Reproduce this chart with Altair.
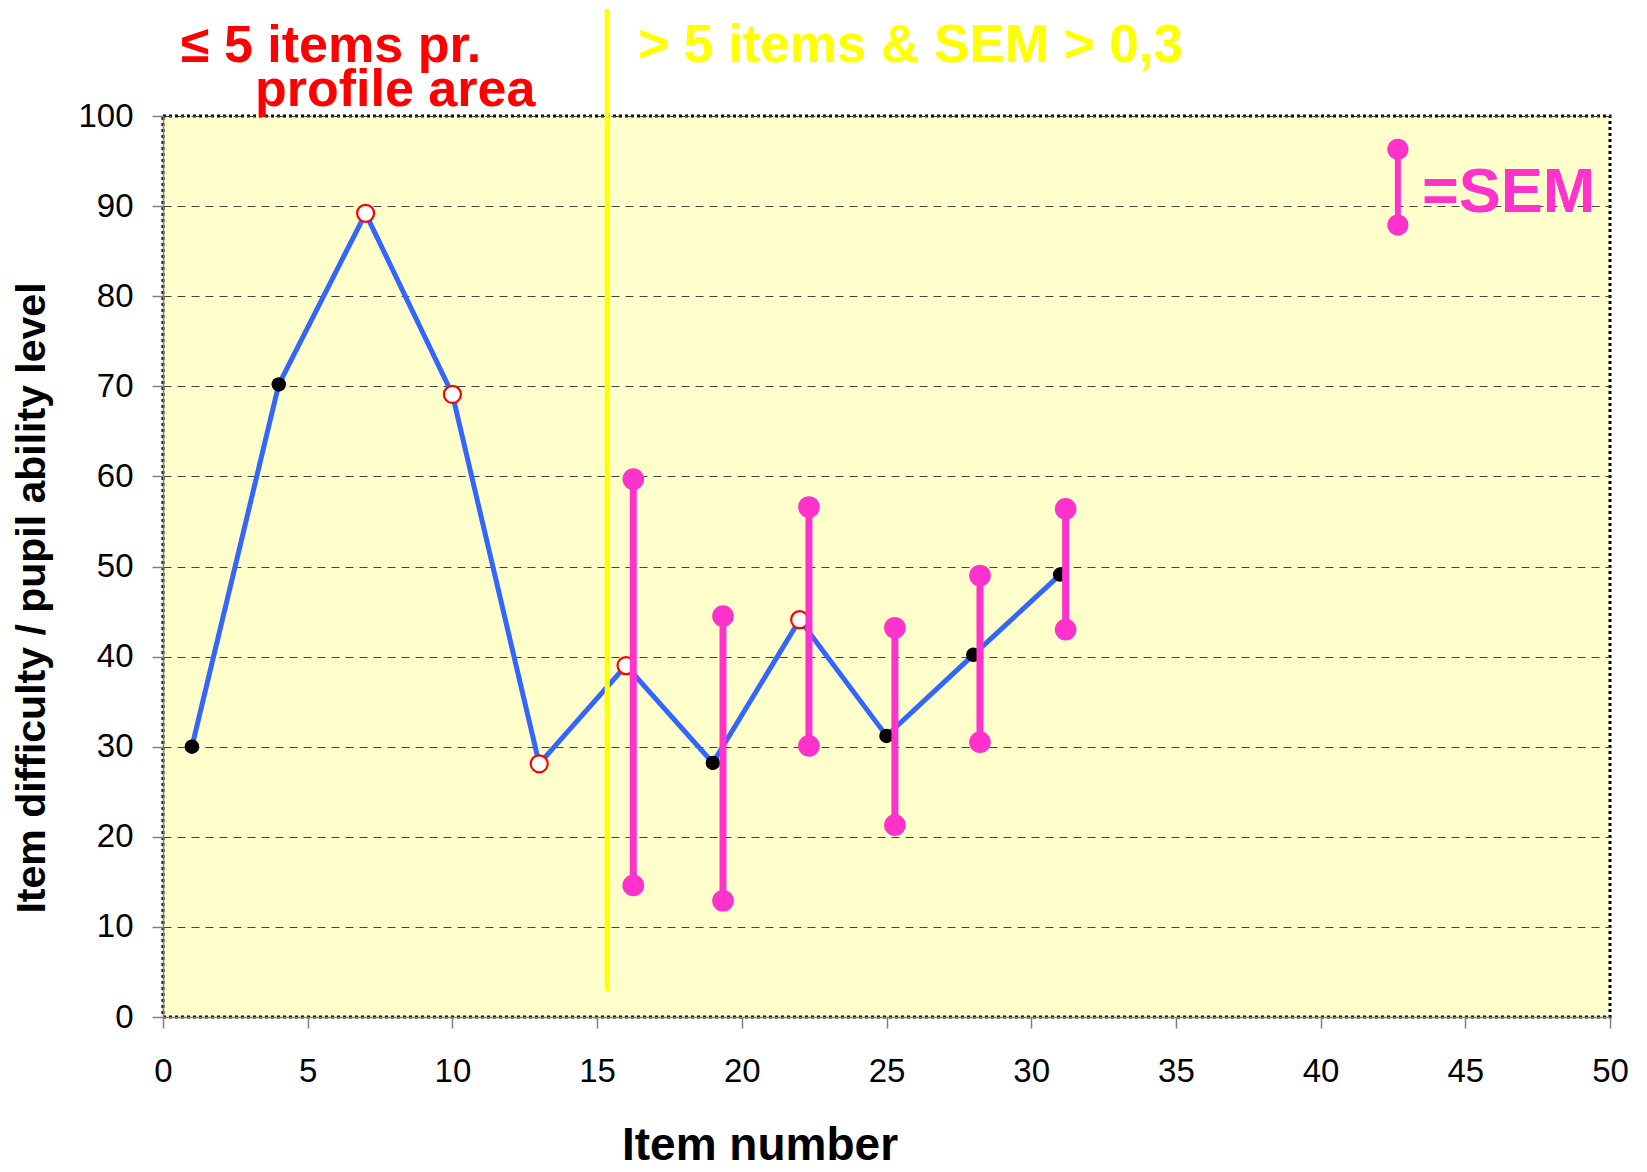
import altair as alt
import pandas as pd

# ---- data ----
items = [1, 4, 7, 10, 13, 16, 19, 22, 25, 28, 31]
levels = [30.0, 70.2, 89.2, 69.1, 28.1, 39.0, 28.2, 44.1, 31.2, 40.2, 49.1]
marker = ["filled", "filled", "open", "open", "open", "open",
          "filled", "open", "filled", "filled", "filled"]

sem_items = [16.25, 19.35, 22.32, 25.29, 28.23, 31.19]
sem_low = [14.6, 12.9, 30.1, 21.3, 30.5, 43.0]
sem_high = [59.7, 44.5, 56.6, 43.2, 49.0, 56.4]

legend_x = [42.67]
legend_low = [87.9]
legend_high = [96.3]

divider_x = [15.35]
divider_bottom = [2.9]
divider_top = [111.9]

x_ticks = [0, 5, 10, 15, 20, 25, 30, 35, 40, 45, 50]
y_ticks = [0, 10, 20, 30, 40, 50, 60, 70, 80, 90, 100]

red_lines = ["\u2264 5 items pr.", "profile area"]
yellow_text = ["> 5 items & SEM > 0,3"]
sem_text = ["=SEM"]
x_title = ["Item number"]
y_title = ["Item difficulty / pupil ability level"]

FONT = "Liberation Sans"
BLUE = "#3366FF"
MAGENTA = "#FF33CC"
YELLOW = "#FFFF00"

pts = pd.DataFrame({"item": items, "level": levels, "marker": marker})
sem = pd.DataFrame({"item": sem_items, "low": sem_low, "high": sem_high})
sem_ends = pd.DataFrame({"item": sem_items + sem_items, "v": sem_low + sem_high})
leg = pd.DataFrame({"item": legend_x, "low": legend_low, "high": legend_high})
leg_ends = pd.DataFrame({"item": legend_x + legend_x, "v": legend_low + legend_high})
div = pd.DataFrame({"x": divider_x, "lo": divider_bottom, "hi": divider_top})

xs = alt.Scale(domain=[0, 50], nice=False, zero=False)
ys = alt.Scale(domain=[0, 100], nice=False)

x_axis = alt.Axis(values=x_ticks, grid=False, title=None, labelPadding=27,
                  labelFlush=False)
y_axis = alt.Axis(values=y_ticks, grid=True, title=None, labelPadding=19,
                  gridDash=[8, 6], gridColor="#444444", gridWidth=1)


def X(field):
    return alt.X(field, scale=xs, axis=x_axis)


def Y(field):
    return alt.Y(field, scale=ys, axis=y_axis)


line = alt.Chart(pts).mark_line(color=BLUE, strokeWidth=5).encode(
    x=X("item:Q"), y=Y("level:Q"),
)

filled_pts = alt.Chart(pts).transform_filter(alt.datum.marker == "filled").mark_point(
    shape="circle", filled=True, color="black", size=210, opacity=1
).encode(x=X("item:Q"), y=Y("level:Q"))

open_pts = alt.Chart(pts).transform_filter(alt.datum.marker == "open").mark_point(
    shape="circle", filled=False, fill="white", fillOpacity=1, stroke="#FF0000",
    strokeWidth=2.2, size=290, opacity=1
).encode(x=X("item:Q"), y=Y("level:Q"))

sem_rules = alt.Chart(sem).mark_rule(color=MAGENTA, strokeWidth=7).encode(
    x=X("item:Q"), y=Y("low:Q"), y2="high:Q",
)
sem_dots = alt.Chart(sem_ends).mark_circle(color=MAGENTA, size=470, opacity=1).encode(
    x=X("item:Q"), y=Y("v:Q"),
)

leg_rule = alt.Chart(leg).mark_rule(color=MAGENTA, strokeWidth=6).encode(
    x=X("item:Q"), y=Y("low:Q"), y2="high:Q",
)
leg_dots = alt.Chart(leg_ends).mark_circle(color=MAGENTA, size=450, opacity=1).encode(
    x=X("item:Q"), y=Y("v:Q"),
)
leg_text = alt.Chart(pd.DataFrame({"t": sem_text})).mark_text(
    align="left", baseline="alphabetic", font=FONT, fontSize=63,
    fontWeight="bold", color=MAGENTA
).encode(text="t:N", x=alt.value(1259), y=alt.value(96))

divider = alt.Chart(div).mark_rule(color=YELLOW, strokeWidth=5, clip=False).encode(
    x=X("x:Q"), y=Y("lo:Q"), y2="hi:Q",
)

red1 = alt.Chart(pd.DataFrame({"t": [red_lines[0]]})).mark_text(
    align="left", baseline="alphabetic", font=FONT, fontSize=52,
    fontWeight="bold", color="#FF0000"
).encode(text="t:N", x=alt.value(18), y=alt.value(-54))
red2 = alt.Chart(pd.DataFrame({"t": [red_lines[1]]})).mark_text(
    align="left", baseline="alphabetic", font=FONT, fontSize=52,
    fontWeight="bold", color="#FF0000"
).encode(text="t:N", x=alt.value(92), y=alt.value(-10))
yel = alt.Chart(pd.DataFrame({"t": yellow_text})).mark_text(
    align="left", baseline="alphabetic", font=FONT, fontSize=53,
    fontWeight="bold", color=YELLOW
).encode(text="t:N", x=alt.value(475), y=alt.value(-54))

xt = alt.Chart(pd.DataFrame({"t": x_title})).mark_text(
    align="center", baseline="alphabetic", font=FONT, fontSize=46,
    fontWeight="bold", color="black"
).encode(text="t:N", x=alt.value(597), y=alt.value(1044))
yt = alt.Chart(pd.DataFrame({"t": y_title})).mark_text(
    align="center", baseline="alphabetic", font=FONT, fontSize=41,
    fontWeight="bold", color="black", angle=270
).encode(text="t:N", x=alt.value(-118), y=alt.value(482))

chart = alt.layer(
    line, filled_pts, open_pts, sem_rules, sem_dots, leg_rule, leg_dots,
    leg_text, divider, red1, red2, yel, xt, yt
).properties(
    width=1447, height=901,
    autosize=alt.AutoSizeParams(type="none"),
    padding={"left": 155, "top": 108, "right": 20, "bottom": 150},
    background="white",
).configure_axis(
    labelFont=FONT, labelFontSize=33, labelColor="black",
    domainColor="#808080", domainWidth=1.5,
    tickColor="#808080", tickWidth=1.5, tickSize=11,
).configure_view(
    fill="#FFFFCC", stroke="black", strokeDash=[3, 3], strokeWidth=3
)

chart.save("out.html", embed_options={"renderer": "svg", "actions": False})
